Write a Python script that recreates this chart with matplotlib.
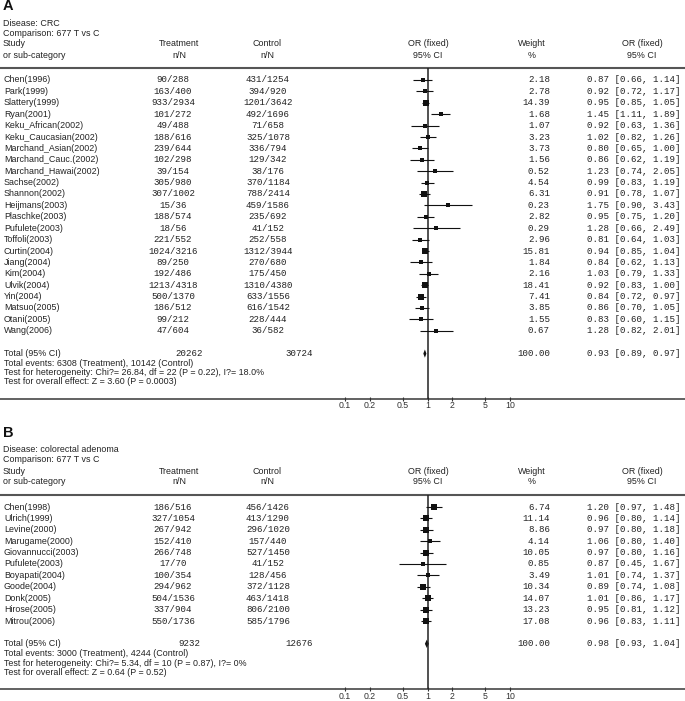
import matplotlib
matplotlib.use("Agg")
import matplotlib.pyplot as plt
import numpy as np

# ---- panel A: CRC ----
a_study = ["Chen(1996)", "Park(1999)", "Slattery(1999)", "Ryan(2001)", "Keku_African(2002)",
           "Keku_Caucasian(2002)", "Marchand_Asian(2002)", "Marchand_Cauc.(2002)",
           "Marchand_Hawai(2002)", "Sachse(2002)", "Shannon(2002)", "Heijmans(2003)",
           "Plaschke(2003)", "Pufulete(2003)", "Toffoli(2003)", "Curtin(2004)", "Jiang(2004)",
           "Kim(2004)", "Ulvik(2004)", "Yin(2004)", "Matsuo(2005)", "Otani(2005)", "Wang(2006)"]
a_treat = ["90/288", "163/400", "933/2934", "101/272", "49/488", "188/616", "239/644", "102/298",
           "39/154", "305/980", "307/1002", "15/36", "188/574", "18/56", "221/552", "1024/3216",
           "89/250", "192/486", "1213/4318", "500/1370", "186/512", "99/212", "47/604"]
a_ctrl = ["431/1254", "394/920", "1201/3642", "492/1696", "71/658", "325/1078", "336/794",
          "129/342", "38/176", "370/1184", "788/2414", "459/1586", "235/692", "41/152",
          "252/558", "1312/3944", "270/680", "175/450", "1310/4380", "633/1556", "616/1542",
          "228/444", "36/582"]
a_weight = [2.18, 2.78, 14.39, 1.68, 1.07, 3.23, 3.73, 1.56, 0.52, 4.54, 6.31, 0.23, 2.82,
            0.29, 2.96, 15.81, 1.84, 2.16, 18.41, 7.41, 3.85, 1.55, 0.67]
a_or = [0.87, 0.92, 0.95, 1.45, 0.92, 1.02, 0.80, 0.86, 1.23, 0.99, 0.91, 1.75, 0.95, 1.28,
        0.81, 0.94, 0.84, 1.03, 0.92, 0.84, 0.86, 0.83, 1.28]
a_lo = [0.66, 0.72, 0.85, 1.11, 0.63, 0.82, 0.65, 0.62, 0.74, 0.83, 0.78, 0.90, 0.75, 0.66,
        0.64, 0.85, 0.62, 0.79, 0.83, 0.72, 0.70, 0.60, 0.82]
a_hi = [1.14, 1.17, 1.05, 1.89, 1.36, 1.26, 1.00, 1.19, 2.05, 1.19, 1.07, 3.43, 1.20, 2.49,
        1.03, 1.04, 1.13, 1.33, 1.00, 0.97, 1.05, 1.15, 2.01]
a_total = ("20262", "30724", 0.93, 0.89, 0.97)
a_head = ["Disease: CRC", "Comparison: 677 T vs C"]
a_foot = ["Total events: 6308 (Treatment), 10142 (Control)",
          "Test for heterogeneity: Chi?= 26.84, df = 22 (P = 0.22), I?= 18.0%",
          "Test for overall effect: Z = 3.60 (P = 0.0003)"]

# ---- panel B: colorectal adenoma ----
b_study = ["Chen(1998)", "Ulrich(1999)", "Levine(2000)", "Marugame(2000)", "Giovannucci(2003)",
           "Pufulete(2003)", "Boyapati(2004)", "Goode(2004)", "Donk(2005)", "Hirose(2005)",
           "Mitrou(2006)"]
b_treat = ["186/516", "327/1054", "267/942", "152/410", "266/748", "17/70", "100/354",
           "294/962", "504/1536", "337/904", "550/1736"]
b_ctrl = ["456/1426", "413/1290", "296/1020", "157/440", "527/1450", "41/152", "128/456",
          "372/1128", "463/1418", "806/2100", "585/1796"]
b_weight = [6.74, 11.14, 8.86, 4.14, 10.05, 0.85, 3.49, 10.34, 14.07, 13.23, 17.08]
b_or = [1.20, 0.96, 0.97, 1.06, 0.97, 0.87, 1.01, 0.89, 1.01, 0.95, 0.96]
b_lo = [0.97, 0.80, 0.80, 0.80, 0.80, 0.45, 0.74, 0.74, 0.86, 0.81, 0.83]
b_hi = [1.48, 1.14, 1.18, 1.40, 1.16, 1.67, 1.37, 1.08, 1.17, 1.12, 1.11]
b_total = ("9232", "12676", 0.98, 0.93, 1.04)
b_head = ["Disease: colorectal adenoma", "Comparison: 677 T vs C"]
b_foot = ["Total events: 3000 (Treatment), 4244 (Control)",
          "Test for heterogeneity: Chi?= 5.34, df = 10 (P = 0.87), I?= 0%",
          "Test for overall effect: Z = 0.64 (P = 0.52)"]

ticks = [0.1, 0.2, 0.5, 1, 2, 5, 10]
tick_labels = ["0.1", "0.2", "0.5", "1", "2", "5", "10"]

W, H = 685, 701
SANS = "Liberation Sans"
MONO = "Liberation Mono"
TXT = "#222222"
FS = 6.4
FM = 6.6
ROW = 11.4

fig = plt.figure(figsize=(W / 100, H / 100), dpi=100)
bg = fig.add_axes([0, 0, 1, 1])
bg.set_xlim(0, W)
bg.set_ylim(H, 0)
bg.axis("off")


def panel(letter, top, study, treat, ctrl, weight, orv, lo, hi, total, head, foot):
    # top = y of the letter; everything else hangs off it
    line_y = top + 62
    first = line_y + 12
    n = len(study)
    total_y = first + (n + 1) * ROW
    axis_y = total_y + 45

    bg.text(3, top, letter, fontsize=10.5, fontweight="bold", family=SANS, va="center", color="#111")
    bg.text(3, top + 17, head[0], fontsize=FS, family=SANS, va="center", color=TXT)
    bg.text(3, top + 27, head[1], fontsize=FS, family=SANS, va="center", color=TXT)
    h1, h2 = top + 38, top + 49
    bg.text(3, h1, "Study", fontsize=FS, family=SANS, va="center", color=TXT)
    bg.text(3, h2, "or sub-category", fontsize=FS, family=SANS, va="center", color=TXT)
    for x, a, b in [(179, "Treatment", "n/N"), (267, "Control", "n/N"),
                    (428, "OR (fixed)", "95% CI"), (532, "Weight", "%"),
                    (642, "OR (fixed)", "95% CI")]:
        bg.text(x, h1, a, fontsize=FS, family=SANS, ha="center", va="center", color=TXT)
        bg.text(x, h2, b, fontsize=FS, family=SANS, ha="center", va="center", color=TXT)
    bg.plot([0, W], [line_y, line_y], color="#555555", lw=1.5, solid_capstyle="butt")
    bg.plot([0, W], [axis_y, axis_y], color="#555555", lw=1.3, solid_capstyle="butt")

    for i in range(n):
        y = first + i * ROW
        bg.text(4, y, study[i], fontsize=FS, family=SANS, va="center", color=TXT)
        bg.text(173, y, treat[i], fontsize=FM, family=MONO, ha="center", va="center", color=TXT)
        bg.text(268, y, ctrl[i], fontsize=FM, family=MONO, ha="center", va="center", color=TXT)
        bg.text(550, y, f"{weight[i]:.2f}", fontsize=FM, family=MONO, ha="right", va="center", color=TXT)
        bg.text(681, y, f"{orv[i]:.2f} [{lo[i]:.2f}, {hi[i]:.2f}]", fontsize=FM, family=MONO,
                ha="right", va="center", color=TXT)

    bg.text(4, total_y, "Total (95% CI)", fontsize=FS, family=SANS, va="center", color=TXT)
    bg.text(189, total_y, total[0], fontsize=FM, family=MONO, ha="center", va="center", color=TXT)
    bg.text(299, total_y, total[1], fontsize=FM, family=MONO, ha="center", va="center", color=TXT)
    bg.text(550, total_y, "100.00", fontsize=FM, family=MONO, ha="right", va="center", color=TXT)
    bg.text(681, total_y, f"{total[2]:.2f} [{total[3]:.2f}, {total[4]:.2f}]", fontsize=FM,
            family=MONO, ha="right", va="center", color=TXT)
    for k, s in enumerate(foot):
        bg.text(4, total_y + 10 + k * 9.2, s, fontsize=FS, family=SANS, va="center", color=TXT)

    # forest plot area
    x0, x1 = 345, 510
    ax = fig.add_axes([x0 / W, 1 - axis_y / H, (x1 - x0) / W, (axis_y - line_y) / H])
    ax.set_xscale("log")
    ax.set_xlim(0.1, 10)
    ax.set_ylim((axis_y - first) / ROW, (line_y - first) / ROW)
    for s in ax.spines.values():
        s.set_visible(False)
    ax.patch.set_alpha(0)
    ax.set_xticks(ticks, tick_labels)
    ax.minorticks_off()
    ax.tick_params(axis="x", direction="inout", length=3.5, width=0.8, pad=0.3,
                   labelsize=6.3, colors="#333333")
    for lab in ax.get_xticklabels():
        lab.set_family(SANS)
    ax.set_yticks([])
    ax.axvline(1, color="#222222", lw=1.1)

    rows = np.arange(n)
    ax.hlines(rows, lo, hi, color="#111111", lw=0.8)
    for i in range(n):
        side = 3.4 + 0.75 * np.sqrt(weight[i])
        ax.plot(orv[i], rows[i], marker="s", ms=side * 0.72, color="#111111", mew=0)
    tr = n + 1
    ax.fill([total[3], total[2], total[4], total[2]], [tr, tr - 0.36, tr, tr + 0.36],
            color="#111111", lw=0)


panel("A", 6, a_study, a_treat, a_ctrl, a_weight, a_or, a_lo, a_hi, a_total, a_head, a_foot)
panel("B", 433, b_study, b_treat, b_ctrl, b_weight, b_or, b_lo, b_hi, b_total, b_head, b_foot)

fig.savefig("out.png", dpi=100, facecolor="white")
